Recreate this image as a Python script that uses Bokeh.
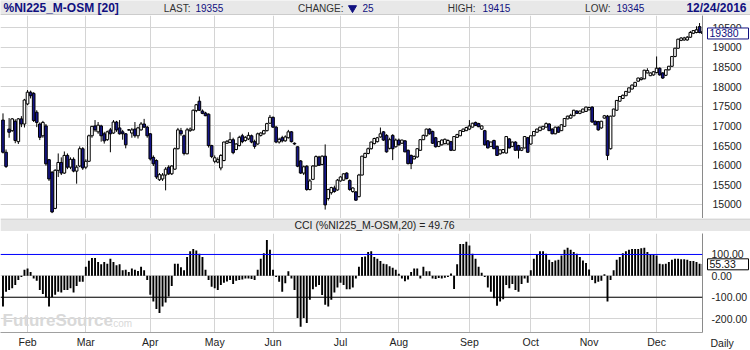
from bokeh.plotting import figure
from bokeh.models import (Range1d, FixedTicker, Span, Label, ColumnDataSource,
                          NumeralTickFormatter, GridBox)
from bokeh.core.properties import value
from bokeh.embed import file_html
from bokeh.resources import INLINE

# ---------------- data ----------------
symbol = "%NI225_M-OSM [20]"
last_price = "19355"
change_value = "25"
high_price = "19415"
low_price = "19345"
as_of = "12/24/2016"
price_marker = 19380
cci_title = "CCI (%NI225_M-OSM,20) = 49.76"
cci_marker = 55.33
period_label = "Daily"

month_labels = ["Feb", "Mar", "Apr", "May", "Jun", "Jul", "Aug", "Sep", "Oct", "Nov", "Dec"]
month_start_bar = [8, 27, 48, 69, 88, 110, 129, 152, 172, 191, 213]
price_ticks = [15000, 15500, 16000, 16500, 17000, 17500, 18000, 18500, 19000, 19500]
cci_ticks = [-200, -100, 0, 100]
cci_upper = 100
cci_lower = -100

open_ = [17150, 16330, 16920, 16880, 17120, 16600, 17180, 17050, 17560, 17860,
         17830, 17350, 17050, 16750, 17000, 16140, 15820, 14900, 15870, 16070,
         15800, 16250, 15950, 16150, 15850, 15980, 16420, 15950, 16100, 16750,
         17000, 16850, 17000, 16800, 16650, 16900, 16820, 17100, 16950, 16850,
         16800, 16900, 16820, 16920, 16750, 16900, 17050, 16970, 16800, 16200,
         16120, 15630, 15650, 15750, 15950, 15780, 15900, 16420, 16880, 16750,
         16290, 16880, 16900, 17390, 17630, 17380, 17330, 17300, 16500, 16100,
         16080, 15930, 16120, 16560, 16580, 16650, 16400, 16500, 16750, 16630,
         16670, 16750, 16600, 16540, 16760, 16800, 16880, 17070, 17220, 16970,
         16590, 16700, 16620, 16700, 16850, 16560, 16470, 16110, 15800, 15975,
         15380, 15640, 15980, 16210, 16020, 16230, 15150, 15300, 15420, 15370,
         15600, 15620, 15800, 15610, 15330, 15320, 15200, 15750, 16200, 16300,
         16420, 16550, 16600, 16720, 16850, 16760, 16430, 16760, 16470, 16640,
         16560, 16620, 16380, 16250, 16160, 16210, 16380, 16650, 16750, 16920,
         16860, 16700, 16480, 16520, 16550, 16540, 16600, 16380, 16710, 16750,
         16860, 16880, 16920, 16970, 17090, 17060, 16920, 16880, 16620, 16480,
         16630, 16480, 16290, 16320, 16310, 16670, 16480, 16590, 16500, 16380,
         16440, 16700, 16540, 16750, 16840, 16880, 16920, 16970, 17050, 16920,
         16800, 16970, 16880, 16990, 17180, 17200, 17260, 17380, 17320, 17350,
         17370, 17410, 17480, 17120, 17110, 16950, 17200, 17250, 16420, 17250,
         17400, 17630, 17700, 17770, 17860, 17940, 18010, 18140, 18180, 18200,
         18350, 18280, 18300, 18360, 18470, 18350, 18290, 18430, 18520, 18770,
         18980, 19180, 19190, 19190, 19260, 19360, 19380, 19530, 19400]
high = [17320, 16400, 17200, 17200, 17170, 17200, 17250, 17690, 17915, 17900,
        17860, 17400, 17090, 17130, 17050, 16160, 15850, 15900, 16300, 16200,
        16350, 16300, 16200, 16200, 16000, 16480, 16460, 16150, 16780, 17000,
        17150, 17100, 17030, 16850, 16880, 16950, 17150, 17130, 17150, 16900,
        16820, 16920, 16950, 17100, 16980, 17100, 17180, 17000, 16820, 16250,
        16150, 15800, 15800, 15950, 16000, 16000, 16450, 16950, 16950, 16780,
        16950, 16960, 17420, 17560, 17750, 17420, 17360, 17320, 16520, 16250,
        16200, 16280, 16600, 16640, 16840, 16700, 16560, 16750, 16800, 16740,
        16840, 16780, 16650, 16830, 16840, 16900, 17080, 17280, 17240, 17000,
        16700, 16750, 16760, 16900, 16870, 16580, 16480, 16130, 15990, 16000,
        15650, 16000, 16250, 16240, 16250, 16530, 15400, 15450, 15480, 15650,
        15720, 15800, 15820, 15640, 15440, 15340, 15780, 16240, 16320, 16450,
        16600, 16700, 16720, 16960, 16870, 16790, 16700, 16790, 16680, 16680,
        16650, 16640, 16400, 16270, 16250, 16430, 16660, 16780, 16930, 16940,
        16880, 16720, 16610, 16660, 16680, 16660, 16620, 16740, 16800, 16890,
        16930, 16980, 17150, 17080, 17110, 17080, 17010, 16900, 16640, 16600,
        16650, 16500, 16400, 16410, 16740, 16690, 16600, 16610, 16520, 16450,
        16740, 16720, 16760, 16870, 16930, 16980, 17000, 17090, 17070, 16940,
        16980, 16990, 17040, 17200, 17260, 17310, 17410, 17400, 17390, 17440,
        17490, 17490, 17500, 17140, 17130, 17130, 17280, 17280, 17260, 17440,
        17660, 17760, 17800, 17890, 17980, 18060, 18120, 18230, 18240, 18430,
        18470, 18360, 18400, 18770, 18490, 18370, 18440, 18530, 18780, 18990,
        19220, 19260, 19270, 19290, 19420, 19440, 19540, 19620, 19415]
low = [16300, 15930, 16700, 16850, 16560, 16540, 16970, 16960, 17530, 17700,
       17100, 16970, 16640, 16700, 15990, 15600, 14780, 14880, 15700, 15750,
       15780, 15900, 15900, 15820, 15530, 15950, 15880, 15900, 16080, 16700,
       16850, 16800, 16600, 16550, 16620, 16330, 16800, 16850, 16780, 16650,
       16430, 16880, 16700, 16700, 16680, 16880, 16950, 16700, 16120, 15980,
       15650, 15600, 15600, 15360, 15750, 15750, 15880, 16400, 16750, 16250,
       16280, 16850, 16880, 17350, 17380, 17300, 17250, 16450, 16180, 16050,
       16050, 15870, 16100, 16540, 16560, 16280, 16380, 16480, 16560, 16600,
       16640, 16560, 16420, 16520, 16730, 16780, 16860, 17050, 16950, 16560,
       16550, 16580, 16600, 16680, 16580, 16520, 15950, 15780, 15750, 15350,
       15360, 15620, 15960, 15980, 16000, 14870, 15100, 15250, 15300, 15350,
       15580, 15600, 15640, 15350, 15300, 15090, 15180, 15740, 16180, 16280,
       16400, 16530, 16580, 16700, 16620, 16320, 16400, 16130, 16450, 16500,
       16540, 16330, 16020, 15900, 16150, 16190, 16370, 16640, 16730, 16780,
       16540, 16450, 16460, 16500, 16530, 16520, 16360, 16370, 16700, 16740,
       16850, 16870, 16900, 16960, 17000, 16970, 16900, 16500, 16430, 16460,
       16410, 16240, 16270, 16300, 16300, 16430, 16460, 16370, 16170, 16360,
       16430, 16320, 16520, 16740, 16830, 16870, 16910, 16960, 16870, 16790,
       16790, 16830, 16870, 16980, 17170, 17190, 17250, 17310, 17300, 17340,
       17360, 17400, 17080, 17020, 16880, 16930, 17190, 16130, 16400, 17240,
       17390, 17620, 17690, 17760, 17850, 17930, 18000, 18130, 18160, 18190,
       18340, 18270, 18280, 18340, 18280, 18200, 18270, 18410, 18500, 18750,
       18960, 19160, 19170, 19170, 19240, 19340, 19360, 19360, 19345]
close = [16330, 15970, 16840, 17180, 16630, 17180, 17050, 17660, 17860, 17770,
         17140, 17090, 16710, 17090, 16035, 15650, 14810, 15870, 16070, 15800,
         16250, 15950, 16150, 15850, 15950, 16420, 15930, 16100, 16750, 16990,
         16900, 17020, 16750, 16620, 16850, 16800, 17100, 16900, 16800, 16800,
         16520, 16900, 16900, 16750, 16950, 17050, 16970, 16750, 16160, 16035,
         15700, 15760, 15750, 15900, 15780, 15980, 16420, 16900, 16800, 16300,
         16900, 16920, 17400, 17540, 17400, 17320, 17260, 16500, 16220, 16190,
         16140, 16250, 16590, 16610, 16650, 16320, 16540, 16710, 16600, 16710,
         16760, 16590, 16480, 16800, 16820, 16880, 17060, 17220, 16970, 16590,
         16660, 16620, 16720, 16850, 16600, 16540, 15975, 15800, 15960, 15380,
         15600, 15980, 16220, 16000, 16230, 14990, 15380, 15430, 15330, 15620,
         15700, 15780, 15660, 15380, 15420, 15110, 15750, 16230, 16300, 16420,
         16590, 16680, 16700, 16800, 16640, 16340, 16650, 16420, 16640, 16520,
         16640, 16340, 16040, 16040, 16220, 16420, 16650, 16760, 16920, 16800,
         16560, 16470, 16600, 16640, 16660, 16630, 16380, 16730, 16780, 16880,
         16920, 16960, 17000, 17070, 17010, 16980, 17000, 16520, 16440, 16590,
         16420, 16250, 16390, 16400, 16730, 16440, 16590, 16380, 16380, 16440,
         16730, 16330, 16750, 16860, 16920, 16970, 16990, 17060, 16880, 16800,
         16970, 16840, 17030, 17190, 17250, 17270, 17400, 17320, 17380, 17430,
         17480, 17470, 17100, 17030, 16900, 17120, 17260, 16250, 17250, 17430,
         17650, 17750, 17780, 17880, 17970, 18040, 18110, 18220, 18220, 18420,
         18410, 18350, 18380, 18470, 18300, 18220, 18430, 18520, 18770, 18980,
         19210, 19240, 19240, 19260, 19380, 19430, 19450, 19380, 19355]
cci = [-143, -74, -66, -58, -43, -20, -5, 29, 34, 18, -12, -23, -66, -85,
       -100, -143, -100, -89, -74, -78, -66, -66, -58, -78, -48, -28, -28, 42, 70,
       83, 83, 65, 54, 65, 57, 80, 65, 49, 54, 26, 29, 18, 34, 28,
       23, 42, 26, -20, -89, -120, -155, -174, -143, -125, -97, -48, 57, 57, 40,
       26, 88, 115, 126, 118, 103, 88, 29, -20, -51, -58, -66, -43, -32, -26,
       -20, -38, -23, -20, -17, -12, -12, -15,
       -20, 29, 80, 106, 168, 122, 29, -5,
       -28, -74, -35, 22, -12, -66, -197, -238, -197, -220, -112, -63, -51, -43, -90,
       -135, -143, -112, -78, -54, -32, -43, -63, -63, -54, -12, 42, 88, 91, 111, 115,
       88, 80, 69, 57, 54, 45, 38, 29, 10,
       -12, -25, -17, 18, 34, 34, -12, 42, 22, 22, -12, -15, -10,
       -12, -9, -5, 11, -62, 54, 149, 149, 160, 142, 103, 80, 42, 15,
       -5, -54, -74, -105, -140, -120, -109, -43, -58, -38, -66, -74, -38, -12, -32, 26, 80, 100,
       115, 115, 103, 75, 65, 72, 75, 95, 122, 131, 122, 111, 103, 88, 72, 60, 30,
       -20, -35, -28, -23, 8, -120, -20, 26, 75, 88, 106, 115, 122, 125, 126,
       126, 129, 131, 111, 100, 98, 95, 57, 54, 57, 65, 75, 80, 80, 78,
       77, 75, 69, 69, 65, 57, 55]

# ---------------- styling ----------------
FONT = "Liberation Sans"
NAVY = "#101080"
DOWN_FILL = "#15158a"
GRID = "#d4d4d4"
AXIS = "#8a8a8a"
HDR_BG = "#e8e8e8"
W = 750

bar = list(range(len(close)))
body_top = [max(o, c) for o, c in zip(open_, close)]
body_bot = [min(o, c) for o, c in zip(open_, close)]
body_fill = ["white" if c >= o else DOWN_FILL for o, c in zip(open_, close)]
src = ColumnDataSource(dict(bar=bar, high=high, low=low, top=body_top,
                            bottom=body_bot, fill=body_fill))
csrc = ColumnDataSource(dict(bar=bar[:len(cci)], cci=cci))

x_rng = Range1d(-0.81, 227.96)
price_rng = Range1d(14643, 19813)
cci_rng = Range1d(-265, 198)

def blank(height, y_range, bg=None):
    f = figure(width=W, height=height, x_range=Range1d(0, W), y_range=y_range,
               toolbar_location=None, output_backend="svg", title=None,
               x_axis_location=None, y_axis_location=None, min_border=0,
               background_fill_color=bg, border_fill_color=bg,
               outline_line_color=None, frame_align=False)
    f.grid.visible = False
    return f

# ---------- header strip ----------
hdr = blank(15, Range1d(15, 0), HDR_BG)
hdr.add_layout(Span(location=14.5, dimension="width", line_color="#b0b0b0", line_width=1))

def hlabel(x, text, color, size="10px", bold=False, align="left"):
    hdr.add_layout(Label(x=x, y=7.5, text=text, text_color=color, text_font=FONT,
                         text_font_size=size, text_font_style="bold" if bold else "normal",
                         text_baseline="middle", text_align=align))

hlabel(3, symbol, NAVY, "12px", True)
hlabel(190, "LAST:", "#333333", align="right")
hlabel(195, last_price, NAVY)
hlabel(343, "CHANGE:", "#333333", align="right")
hdr.scatter([352], [7.5], marker="inverted_triangle", size=8, fill_color=NAVY, line_color=NAVY)
hlabel(362, change_value, NAVY)
hlabel(475, "HIGH:", "#333333", align="right")
hlabel(482, high_price, NAVY)
hlabel(610, "LOW:", "#333333", align="right")
hlabel(616, low_price, NAVY)
hlabel(746, as_of, NAVY, "12px", True, "right")

# ---------- price panel ----------
pf = figure(width=W, height=203, x_range=x_rng, y_range=price_rng,
            toolbar_location=None, output_backend="svg", title=None,
            x_axis_location=None, y_axis_location="right",
            min_border_left=0, min_border_right=44, min_border_top=0, min_border_bottom=0,
            outline_line_color=None)
pf.yaxis.ticker = FixedTicker(ticks=price_ticks)
pf.yaxis.major_tick_line_color = None
pf.yaxis.minor_tick_line_color = None
pf.yaxis.axis_line_color = AXIS
pf.yaxis.major_label_standoff = 4
pf.yaxis.major_label_text_font = FONT
pf.yaxis.major_label_text_font_size = "10.5px"
pf.yaxis.major_label_text_color = "#222222"
pf.ygrid.ticker = FixedTicker(ticks=price_ticks)
pf.xgrid.ticker = FixedTicker(ticks=month_start_bar)
pf.grid.grid_line_color = GRID

pf.segment(x0="bar", y0="low", x1="bar", y1="high", source=src, line_color="black", line_width=1)
pf.vbar(x="bar", width=0.86, top="top", bottom="bottom", source=src,
        fill_color="fill", line_color="black", line_width=1)

# transparent overlay over the price panel for the right-hand last-price box
pov = blank(203, price_rng)
pov.rect(x=[727.5], y=[close[-1]], width=41, height=11, height_units="screen",
         fill_color="white", line_color=NAVY, line_width=1)
pov.text(x=[709], y=[close[-1]], text=[str(price_marker)], text_baseline="middle",
         text_align="left", text_font=value(FONT), text_font_size="10.5px", text_color=NAVY)

# ---------- CCI title strip ----------
ch = blank(14, Range1d(14, 0), "white")
ch.quad(left=[0], right=[W], top=[1], bottom=[12.5], fill_color="#e6e6e6", line_color=None)
ch.add_layout(Span(location=0.5, dimension="width", line_color="#bcbcbc", line_width=1))
ch.add_layout(Label(x=374, y=6.5, text=cci_title, text_color="#222222", text_font=FONT,
                    text_font_size="10.5px", text_baseline="middle", text_align="center"))

# ---------- CCI panel ----------
cf = figure(width=W, height=118, x_range=x_rng, y_range=cci_rng,
            toolbar_location=None, output_backend="svg", title=None,
            x_axis_location="below", y_axis_location="right",
            min_border_left=0, min_border_right=44, min_border_top=1, min_border_bottom=17,
            outline_line_color=None)
cf.yaxis.ticker = FixedTicker(ticks=cci_ticks)
cf.yaxis.formatter = NumeralTickFormatter(format="0.00")
cf.yaxis.major_tick_line_color = None
cf.yaxis.minor_tick_line_color = None
cf.yaxis.axis_line_color = AXIS
cf.yaxis.major_label_standoff = 3
cf.yaxis.major_label_text_font = FONT
cf.yaxis.major_label_text_font_size = "10.5px"
cf.yaxis.major_label_text_color = "#222222"
cf.xaxis.ticker = FixedTicker(ticks=month_start_bar)
cf.xaxis.major_label_overrides = {b: m for b, m in zip(month_start_bar, month_labels)}
cf.xaxis.major_tick_line_color = None
cf.xaxis.minor_tick_line_color = None
cf.xaxis.major_tick_out = 0
cf.xaxis.axis_line_color = "#a0a0a0"
cf.xaxis.major_label_standoff = 3
cf.xaxis.major_label_text_font = FONT
cf.xaxis.major_label_text_font_size = "10.5px"
cf.xaxis.major_label_text_color = "#222222"
cf.ygrid.ticker = FixedTicker(ticks=cci_ticks)
cf.xgrid.ticker = FixedTicker(ticks=month_start_bar)
cf.grid.grid_line_color = GRID

cf.add_layout(Label(x=x_rng.start, y=cci_rng.start, x_offset=2, y_offset=3, text="FutureSource",
                    text_font=FONT, text_font_size="17px", text_font_style="bold",
                    text_color="#d9d9d9", text_baseline="bottom", level="underlay"))
cf.add_layout(Label(x=x_rng.start, y=cci_rng.start, x_offset=110, y_offset=4, text=".com",
                    text_font=FONT, text_font_size="10px", text_color="#d9d9d9",
                    text_baseline="bottom", level="underlay"))

cf.vbar(x="bar", width=0.62, top="cci", bottom=0, source=csrc,
        fill_color="black", line_color=None)
cf.add_layout(Span(location=cci_upper, dimension="width", line_color="#0000ff", line_width=1))
cf.add_layout(Span(location=cci_lower, dimension="width", line_color="black", line_width=1))

# transparent overlay over the CCI panel: same value scale (frame rows 1..101 of 118 px)
u = (cci_rng.end - cci_rng.start) / 100.0
cov = blank(118, Range1d(cci_rng.start - 17 * u, cci_rng.end + 1 * u))
cov.rect(x=[727.5], y=[cci_marker], width=41, height=11, height_units="screen",
         fill_color="white", line_color="black", line_width=1)
cov.text(x=[709], y=[cci_marker], text=[f"{cci_marker:.2f}"], text_baseline="middle",
         text_align="left", text_font=value(FONT), text_font_size="10.5px", text_color="#111111")
cov.text(x=[710], y=[cci_rng.start - 9 * u], text=[period_label], text_baseline="middle",
         text_align="left", text_font=value(FONT), text_font_size="10.5px", text_color="#222222")

layout = GridBox(children=[(hdr, 0, 0), (pf, 1, 0), (pov, 1, 0), (ch, 2, 0),
                           (cf, 3, 0), (cov, 3, 0)], spacing=0)
open("out.html", "w").write(file_html(layout, INLINE))
